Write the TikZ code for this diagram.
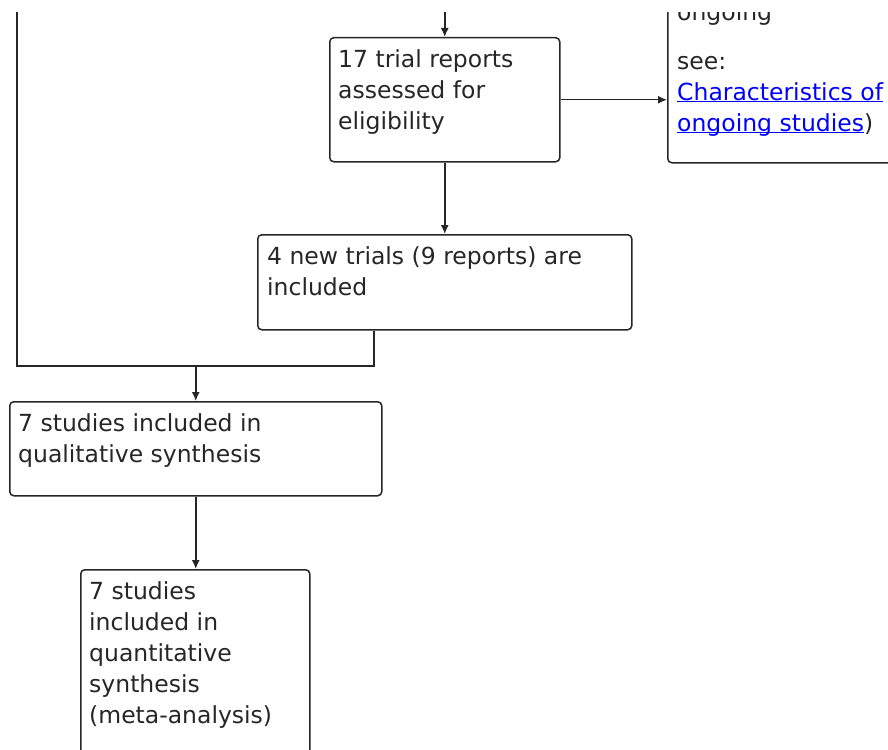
\documentclass[tikz,border=0pt]{standalone}
\usepackage{fontspec}
\setmainfont{DejaVu Sans}
\usetikzlibrary{arrows.meta,calc}
\newcommand\lnkline[1]{\underline{\smash{#1}}}
\begin{document}
\begin{tikzpicture}[x=1pt,y=-1pt,
 box/.style={draw=black!85, rounded corners=4pt, line width=1.5pt, inner sep=0pt, anchor=north west},
 txt/.style={inner sep=0pt, anchor=north west, align=left, font=\fontsize{23.5}{31}\selectfont, text=black!85},
 arr/.style={draw=black!85, line width=1.5pt, -{Latex[length=9pt,width=8pt]}},
 ln/.style={draw=black!85, line width=1.5pt}]
\useasboundingbox (0,0) rectangle (888,749);
\clip (0,12.5) rectangle (888,749);
% boxes
\node[box, minimum width=230, minimum height=124] (A) at (329,37) {};
\node[box, minimum width=374, minimum height=95] (B) at (257,234) {};
\node[box, minimum width=372, minimum height=94] (C) at (9,401) {};
\node[box, minimum width=229, minimum height=200] (D) at (80,569) {};
\node[box, minimum width=260, minimum height=212] (E) at (667,-50) {};
% texts
\node[txt] (At) at ($(A.north west)+(9,8.3)$) {\strut 17 trial reports\\assessed for\\eligibility};
\node[txt] (Bt) at ($(B.north west)+(10,9)$) {\strut 4 new trials (9 reports) are\\included};
\node[txt] (Ct) at ($(C.north west)+(9,8.3)$) {\strut 7 studies included in\\qualitative synthesis};
\node[txt] (Dt) at ($(D.north west)+(9,8.3)$) {\strut 7 studies\\included in\\quantitative\\synthesis\\(meta-analysis)};
\node[txt, anchor=base west] (Eo) at (677,21) {ongoing};
\node[txt] (Et) at (677,47.3) {\strut see:\\{\color{blue}\lnkline{Characteristics of}}\\{\color{blue}\lnkline{ongoing studies}})};
% connectors
\coordinate (top) at (0,0);
\coordinate (h) at (0,366);
\coordinate (lt) at (17,0);
\coordinate (j) at (C.north |- h);
\coordinate (bs) at ($(B.south west)+(117,0)$);
\draw[arr] (A.north |- top) -- (A.north);
\draw[arr] (A.east) -- (A.east -| E.west);
\draw[arr] (A.south) -- (A.south |- B.north);
\draw[ln] (bs) |- (j);
\draw[ln] (lt) |- (j);
\draw[arr] (j) -- (C.north);
\draw[arr] (C.south) -- (C.south |- D.north);
\end{tikzpicture}
\end{document}
